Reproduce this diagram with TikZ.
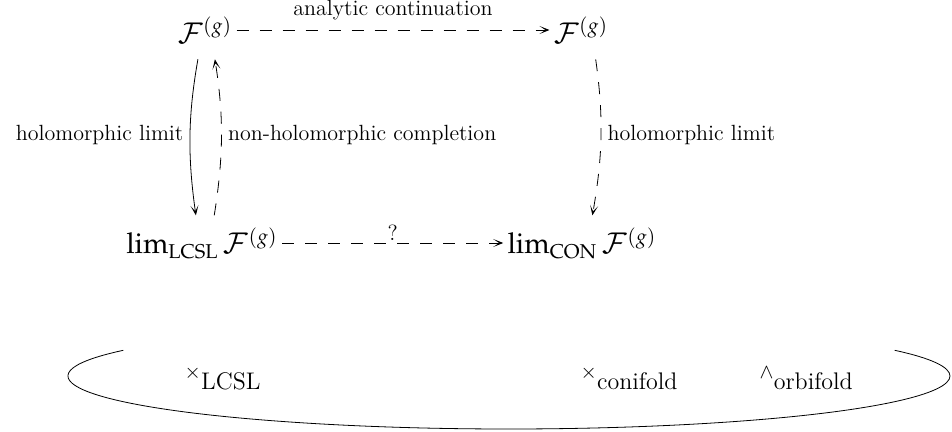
\documentclass[tikz,border=0pt]{standalone}
\usepackage{amsmath}
\usepackage{mathpazo}
\usetikzlibrary{positioning,arrows.meta}

\begin{document}
\begin{tikzpicture}[
  x=0.5pt,y=0.5pt,
  obj/.style={inner sep=2pt,font=\Large},
  map/.style={-{Stealth[length=5pt,width=4pt,inset=3pt]},thin},
  dmap/.style={map,dash pattern=on 6pt off 5.5pt},
  vmap/.style={shorten <=6pt,shorten >=4pt},
  lbl/.style={font=\fontsize{11}{13}\selectfont},
  pointlbl/.style={anchor=base west,inner sep=0pt}
]
  \useasboundingbox (0,0) rectangle (952,432);
  % diagram
  \node[obj] (F1) at (205,402) {$\mathcal{F}^{(g)}$};
  \node[obj] (F2) at (581,402) {$\mathcal{F}^{(g)}$};
  \node[obj] (L1) at (202,189) {$\lim_{\mathrm{LCSL}}\mathcal{F}^{(g)}$};
  \node[obj] (L2) at (582,189) {$\lim_{\mathrm{CON}}\mathcal{F}^{(g)}$};

  \draw[dmap] (F1) -- node[above,yshift=1.5pt,lbl] {analytic continuation} (F2);
  \draw[map,vmap] ([xshift=-2.5pt]F1.south) to[bend right=9]
    node[left,lbl] {holomorphic limit} ([xshift=-2.5pt]L1.north);
  \draw[dmap,shorten <=4pt,shorten >=6pt] ([xshift=5.5pt]L1.north) to[bend right=9]
    node[right,lbl] {non-holomorphic completion} ([xshift=4pt]F1.south);
  \draw[dmap,vmap] ([xshift=6.5pt]F2.south) to[bend left=9]
    node[right,lbl] {holomorphic limit} ([xshift=4.5pt]L2.north);
  \draw[dmap] (L1) -- node[above,inner sep=1pt,lbl] {?} (L2);

  % moduli space
  \draw (509,56) ++(151:441 and 53) arc[start angle=151,end angle=389,x radius=441,y radius=53];
  \node[pointlbl] (lcsl) at (184,53) {$\times_{\text{\large LCSL}}$};
  \node[pointlbl] (con) at (580,53) {$\times_{\text{\large conifold}}$};
  \node[pointlbl] (orb) at (759,53) {$\wedge_{\text{\large orbifold}}$};
\end{tikzpicture}
\end{document}
